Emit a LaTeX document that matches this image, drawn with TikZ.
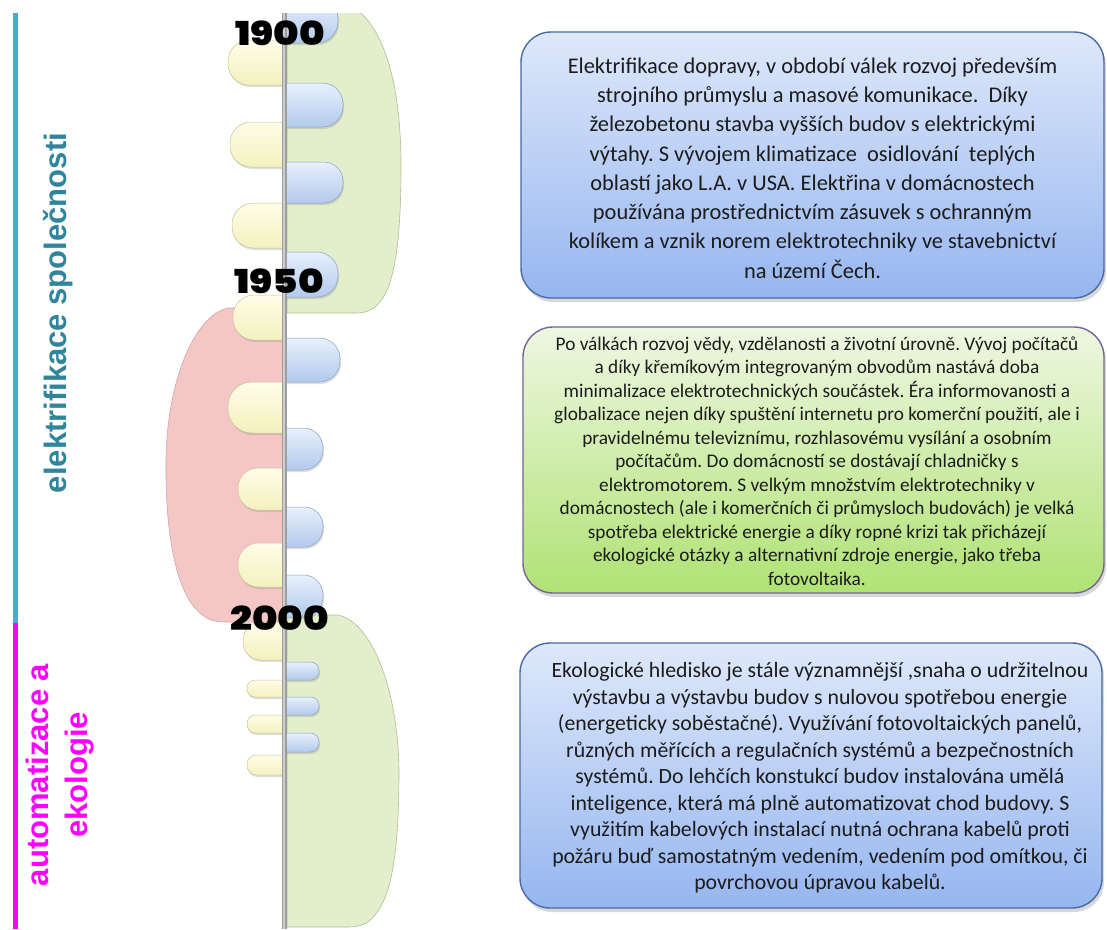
\documentclass[tikz,border=0pt]{standalone}
\usepackage{fontspec}
\setmainfont{Carlito}
\newfontfamily\headfont{Liberation Sans}
\newfontfamily\yearfont{Poppins Black}
\usetikzlibrary{shadows}
\frenchspacing

\definecolor{tealtxt}{RGB}{49,133,155}
\definecolor{tealline}{RGB}{75,172,198}
\definecolor{magen}{RGB}{255,0,255}
\definecolor{sagefill}{RGB}{226,238,204}
\definecolor{sageedge}{RGB}{175,190,150}
\definecolor{rosefill}{RGB}{244,199,198}
\definecolor{roseedge}{RGB}{210,165,165}
\definecolor{creamtop}{RGB}{254,253,232}
\definecolor{creambot}{RGB}{244,241,190}
\definecolor{creamedge}{RGB}{200,195,150}
\definecolor{skytop}{RGB}{232,240,252}
\definecolor{skybot}{RGB}{178,202,236}
\definecolor{skyedge}{RGB}{140,160,190}
\definecolor{boxbluetop}{RGB}{222,232,250}
\definecolor{boxbluebot}{RGB}{150,182,240}
\definecolor{boxblueedge}{RGB}{72,106,165}
\definecolor{boxgreentop}{RGB}{238,247,226}
\definecolor{boxgreenbot}{RGB}{176,226,116}
\definecolor{boxgreenedge}{RGB}{118,100,150}
\definecolor{spinegray}{RGB}{158,158,158}
\definecolor{spinelight}{RGB}{205,205,205}
\definecolor{bodytext}{RGB}{28,28,28}

% rounded tabs on either side of the time axis
\newcommand\bluetab[3]{%
  \pgfmathsetmacro\tabr{0.47*(#3-#2)}%
  \shade[righttab, rounded corners=\tabr pt] (240,#2) rectangle (#1,#3);}
\newcommand\creamtab[3]{%
  \pgfmathsetmacro\tabr{0.47*(#3-#2)}%
  \shade[lefttab, rounded corners=\tabr pt] (#1,#2) rectangle (330,#3);}

\begin{document}
\begin{tikzpicture}[x=1pt, y=-1pt,
  righttab/.style={top color=skytop, bottom color=skybot, draw=skyedge, line width=0.5pt,
    drop shadow={shadow xshift=1pt, shadow yshift=-2pt, opacity=0.25}},
  lefttab/.style={top color=creamtop, bottom color=creambot, draw=creamedge, line width=0.5pt,
    drop shadow={shadow xshift=1pt, shadow yshift=-2pt, opacity=0.25}},
  panel/.style={line width=0.6pt},
  yearlab/.style={font={\yearfont\fontsize{33}{38}\selectfont}, text=black, inner sep=0pt,
    xscale=1.17, transform shape},
  eralab/.style={rotate=90, inner sep=0pt},
  infobox/.style={rounded corners=30pt, line width=1.4pt, text=bodytext, align=center, inner sep=0pt,
    drop shadow={shadow xshift=2pt, shadow yshift=-4pt, opacity=0.3}},
  bluebox/.style={infobox, draw=boxblueedge, top color=boxbluetop, bottom color=boxbluebot},
  greenbox/.style={infobox, draw=boxgreenedge, top color=boxgreentop, bottom color=boxgreenbot},
  bodytxt/.style={align=center, text=bodytext, inner sep=0pt}]
\useasboundingbox (0,0) rectangle (1107,929);
\fill[white] (0,0) rectangle (1107,929);

% era bars on the far left
\coordinate (barTop) at (15.5,13);
\coordinate (barMid) at (15.5,623);
\coordinate (barEnd) at (15.5,929);
\draw[line width=5pt, tealline] (barTop) -- (barMid);
\draw[line width=5pt, magen] (barMid) -- (barEnd);

\node[eralab, text=tealtxt, font={\headfont\bfseries\fontsize{31}{37}\selectfont}]
  (eraA) at (58,313) {elektrifikace společnosti};
\node[eralab, text=magen, align=center, font={\headfont\bfseries\fontsize{31}{39}\selectfont}]
  (eraB) at (60,775) {automatizace a\\ekologie};

\begin{scope}
\clip (0,13) rectangle (1107,929);
% large period shapes
\filldraw[panel, fill=sagefill, draw=sageedge]
  (287,5) -- (350,5) .. controls (386,25) and (401,90) .. (401,165)
  .. controls (401,240) and (395,290) .. (376,306)
  .. controls (370,311) and (365,313) .. (355,313) -- (287,313) -- cycle;
\filldraw[panel, fill=rosefill, draw=roseedge]
  (283,308) -- (228,308) .. controls (195,315) and (167,380) .. (166,460)
  .. controls (165,540) and (178,595) .. (200,613)
  .. controls (207,619) and (213,622) .. (225,622) -- (283,622) -- cycle;
\filldraw[panel, fill=sagefill, draw=sageedge]
  (287,615) -- (338,615) .. controls (372,622) and (398,690) .. (399,770)
  .. controls (399,850) and (392,895) .. (375,915)
  .. controls (368,924) and (360,927) .. (348,927) -- (287,927) -- cycle;

% tabs left of the axis
\begin{scope}
\clip (0,0) rectangle (282,929);
\creamtab{228}{40}{85}
\creamtab{230}{122}{167}
\creamtab{232}{203}{248}
\creamtab{233}{295}{340}
\creamtab{228}{382}{433}
\creamtab{238}{468}{510}
\creamtab{238}{543}{587}
\creamtab{243}{622}{660}
\creamtab{247}{680}{697}
\creamtab{247}{715}{733}
\creamtab{247}{755}{775}
\end{scope}

% tabs right of the axis
\begin{scope}
\clip (287,0) rectangle (1107,929);
\bluetab{338}{-2}{43}
\bluetab{343}{83}{127}
\bluetab{343}{162}{203}
\bluetab{338}{252}{297}
\bluetab{340}{338}{382}
\bluetab{323}{428}{470}
\bluetab{323}{507}{547}
\bluetab{323}{575}{617}
\bluetab{319}{662}{680}
\bluetab{319}{697}{715}
\bluetab{319}{733}{752}
\end{scope}

% time axis
\fill[spinegray] (281.5,13) rectangle (287,929);
\fill[spinelight] (283,13) rectangle (284.5,929);
\end{scope}

% years
\node[yearlab] (y1900) at (280,33.5) {1900};
\node[yearlab] (y1950) at (279,281.5) {1950};
\node[yearlab] (y2000) at (279.5,618.5) {2000};

% period descriptions
\node[bluebox, minimum width=583pt, minimum height=266pt] (boxA) at (812.5,165) {};
\node[bodytxt, font=\fontsize{22.4}{29.3}\selectfont] (txtA) at (812.5,168) {%
Elektrifikace dopravy, v období válek rozvoj především\\
strojního průmyslu a masové komunikace.\ \ Díky\\
železobetonu stavba vyšších budov s elektrickými\\
výtahy. S vývojem klimatizace\ \ osidlování\ \ teplých\\
oblastí jako L.A. v USA. Elektřina v domácnostech\\
používána prostřednictvím zásuvek s ochranným\\
kolíkem a vznik norem elektrotechniky ve stavebnictví\\
na území Čech.};

\node[greenbox, minimum width=581pt, minimum height=266pt] (boxB) at (813.5,460) {};
\node[bodytxt, font=\fontsize{19.3}{23.5}\selectfont] (txtB) at (817,461) {%
Po válkách rozvoj vědy, vzdělanosti a životní úrovně. Vývoj počítačů\\
a díky křemíkovým integrovaným obvodům nastává doba\\
minimalizace elektrotechnických součástek. Éra informovanosti a\\
globalizace nejen díky spuštění internetu pro komerční použití, ale i\\
pravidelnému televiznímu, rozhlasovému vysílání a osobním\\
počítačům. Do domácností se dostávají chladničky s\\
elektromotorem. S velkým množstvím elektrotechniky v\\
domácnostech (ale i komerčních či průmysloch budovách) je velká\\
spotřeba elektrické energie a díky ropné krizi tak přicházejí\\
ekologické otázky a alternativní zdroje energie, jako třeba\\
fotovoltaika.};

\node[bluebox, minimum width=582pt, minimum height=265pt] (boxC) at (811,775.5) {};
\node[bodytxt, font=\fontsize{21.8}{26.5}\selectfont] (txtC) at (820,778) {%
Ekologické hledisko je stále významnější ,snaha o udržitelnou\\
výstavbu a výstavbu budov s nulovou spotřebou energie\\
(energeticky soběstačné). Využívání fotovoltaických panelů,\\
různých měřících a regulačních systémů a bezpečnostních\\
systémů. Do lehčích konstukcí budov instalována umělá\\
inteligence, která má plně automatizovat chod budovy. S\\
využitím kabelových instalací nutná ochrana kabelů proti\\
požáru buď samostatným vedením, vedením pod omítkou, či\\
povrchovou úpravou kabelů.};
\end{tikzpicture}
\end{document}
